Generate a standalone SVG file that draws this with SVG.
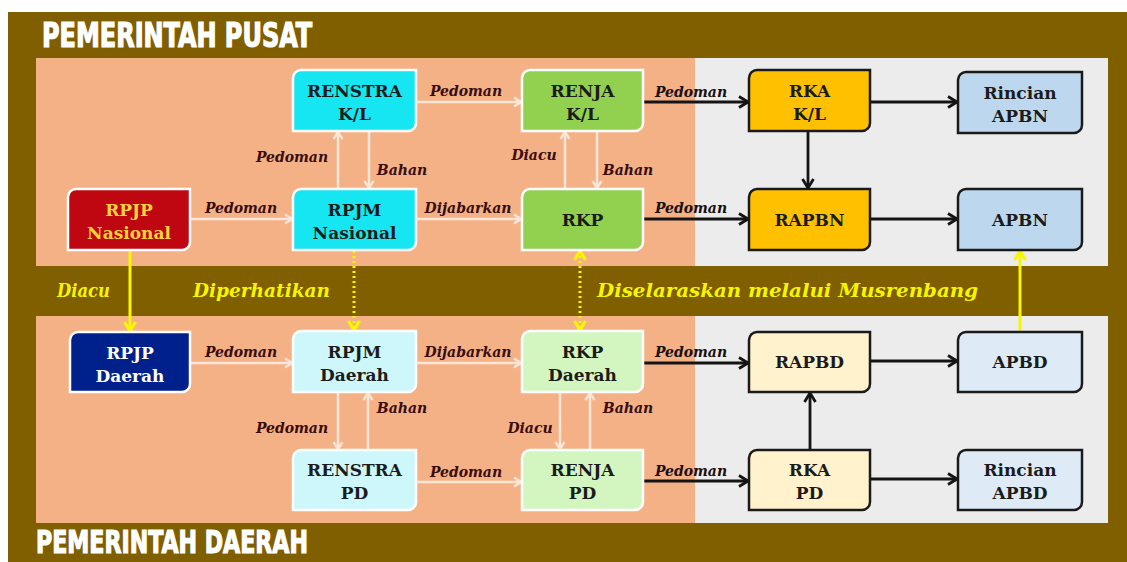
<svg xmlns="http://www.w3.org/2000/svg" width="1127" height="562" viewBox="0 0 1127 562">
<defs>
<style>
.n{stroke-width:2.5}
.pw{stroke:#ffffff}
.pb{stroke:#1a1a1a}
.t{font-family:"DejaVu Serif","Liberation Serif",serif;font-weight:bold;font-size:17px;text-anchor:middle;fill:#1b1b1b}
.t.y{fill:#ffd43b}
.t.w{fill:#ffffff}
.lab{font-family:"DejaVu Serif","Liberation Serif",serif;font-weight:bold;font-style:italic;font-size:14px;text-anchor:middle;fill:#3a0d0d}
.lab.k{fill:#1a1010}
.ylab{font-family:"DejaVu Serif","Liberation Serif",serif;font-weight:bold;font-style:italic;font-size:19px;fill:#f5f500}
.title{font-family:"DejaVu Sans Condensed","DejaVu Sans",sans-serif;font-stretch:condensed;font-weight:bold;fill:#ffffff;stroke:#ffffff;stroke-width:1.2}
.cw{fill:none;stroke:#fde6d8;stroke-width:2.5}
.cb{fill:none;stroke:#141414;stroke-width:2.8}
.cy{fill:none;stroke:#f7f700;stroke-width:3}
.cyd{fill:none;stroke:#f7f700;stroke-width:3;stroke-dasharray:2 3}
</style>
<marker id="aw" viewBox="0 0 12 12" refX="10" refY="6" markerWidth="12" markerHeight="12" markerUnits="userSpaceOnUse" orient="auto-start-reverse"><path d="M3,1.5 L10,6 L3,10.5" fill="none" stroke="#fde6d8" stroke-width="2.4" stroke-linejoin="miter"/></marker>
<marker id="ab" viewBox="0 0 14 14" refX="12" refY="7" markerWidth="14" markerHeight="14" markerUnits="userSpaceOnUse" orient="auto-start-reverse"><path d="M3,1.5 L12,7 L3,12.5" fill="none" stroke="#141414" stroke-width="2.8"/></marker>
<marker id="ay" viewBox="0 0 14 14" refX="12" refY="7" markerWidth="14" markerHeight="14" markerUnits="userSpaceOnUse" orient="auto-start-reverse"><path d="M3,1.5 L12,7 L3,12.5" fill="none" stroke="#f7f700" stroke-width="3.2"/></marker>
</defs>

<!-- background -->
<rect x="0" y="0" width="1127" height="562" fill="#ffffff"/>
<rect x="8" y="12" width="1119" height="550" fill="#7f5f00"/>
<rect x="36" y="58" width="659" height="208" fill="#f4b186"/>
<rect x="695" y="58" width="413" height="208" fill="#ececec"/>
<rect x="36" y="316" width="659" height="207" fill="#f4b186"/>
<rect x="695" y="316" width="413" height="207" fill="#ececec"/>

<text class="title" x="42" y="47" font-size="33" textLength="270" lengthAdjust="spacingAndGlyphs">PEMERINTAH PUSAT</text>
<text class="title" x="36" y="553" font-size="32" textLength="272" lengthAdjust="spacingAndGlyphs">PEMERINTAH DAERAH</text>

<!-- connectors -->
<g id="connectors">
<path class="cw" d="M190,219 H292" marker-end="url(#aw)"/>
<path class="cw" d="M338,189 V132" marker-end="url(#aw)"/>
<path class="cw" d="M369,131 V188" marker-end="url(#aw)"/>
<path class="cw" d="M416,102 H521" marker-end="url(#aw)"/>
<path class="cw" d="M416,219 H521" marker-end="url(#aw)"/>
<path class="cw" d="M565,189 V132" marker-end="url(#aw)"/>
<path class="cw" d="M597,131 V188" marker-end="url(#aw)"/>
<path class="cb" d="M643,102 H748" marker-end="url(#ab)"/>
<path class="cb" d="M643,219 H748" marker-end="url(#ab)"/>
<path class="cb" d="M870,102 H957" marker-end="url(#ab)"/>
<path class="cb" d="M808,131 V188" marker-end="url(#ab)"/>
<path class="cb" d="M870,219 H957" marker-end="url(#ab)"/>

<path class="cy" d="M130,250 V331" marker-end="url(#ay)"/>
<path class="cyd" d="M354,251 V330" marker-end="url(#ay)"/>
<path class="cyd" d="M580,251 V330" marker-start="url(#ay)" marker-end="url(#ay)"/>
<path class="cy" d="M1020,332 V251" marker-end="url(#ay)"/>

<path class="cw" d="M190,363 H292" marker-end="url(#aw)"/>
<path class="cw" d="M338,392 V449" marker-end="url(#aw)"/>
<path class="cw" d="M368,450 V393" marker-end="url(#aw)"/>
<path class="cw" d="M416,363 H521" marker-end="url(#aw)"/>
<path class="cw" d="M560,392 V449" marker-end="url(#aw)"/>
<path class="cw" d="M590,450 V393" marker-end="url(#aw)"/>
<path class="cw" d="M416,482 H521" marker-end="url(#aw)"/>
<path class="cb" d="M643,363 H748" marker-end="url(#ab)"/>
<path class="cb" d="M643,481 H748" marker-end="url(#ab)"/>
<path class="cb" d="M870,361 H957" marker-end="url(#ab)"/>
<path class="cb" d="M810,450 V393" marker-end="url(#ab)"/>
<path class="cb" d="M870,479 H957" marker-end="url(#ab)"/>

<text class="lab" x="241" y="213">Pedoman</text>
<text class="lab" x="292" y="162">Pedoman</text>
<text class="lab" x="402" y="175">Bahan</text>
<text class="lab" x="466" y="96">Pedoman</text>
<text class="lab" x="468" y="213">Dijabarkan</text>
<text class="lab" x="534" y="160">Diacu</text>
<text class="lab" x="628" y="175">Bahan</text>
<text class="lab k" x="691" y="97">Pedoman</text>
<text class="lab k" x="691" y="213">Pedoman</text>

<text class="lab" x="241" y="357">Pedoman</text>
<text class="lab" x="292" y="433">Pedoman</text>
<text class="lab" x="402" y="413">Bahan</text>
<text class="lab" x="468" y="357">Dijabarkan</text>
<text class="lab" x="530" y="433">Diacu</text>
<text class="lab" x="628" y="413">Bahan</text>
<text class="lab" x="466" y="477">Pedoman</text>
<text class="lab k" x="691" y="357">Pedoman</text>
<text class="lab k" x="691" y="476">Pedoman</text>

<text class="ylab" x="57" y="297" textLength="53" lengthAdjust="spacingAndGlyphs">Diacu</text>
<text class="ylab" x="193" y="297" textLength="137" lengthAdjust="spacingAndGlyphs">Diperhatikan</text>
<text class="ylab" x="597" y="297" textLength="381" lengthAdjust="spacingAndGlyphs">Diselaraskan melalui Musrenbang</text>
</g>

<!-- nodes: top -->
<g id="rpjp-nasional"><path class="n pw" fill="#be0710" d="M76,189 H190 V242 A8,8 0 0 1 182,250 H68 V197 A8,8 0 0 1 76,189 Z"/><text class="t y" x="129" y="216">RPJP</text><text class="t y" x="129" y="239">Nasional</text></g>
<g id="renstra-kl"><path class="n pw" fill="#16e6f2" d="M301,70 H416 V123 A8,8 0 0 1 408,131 H293 V78 A8,8 0 0 1 301,70 Z"/><text class="t" x="354.5" y="97">RENSTRA</text><text class="t" x="354.5" y="120">K/L</text></g>
<g id="rpjm-nasional"><path class="n pw" fill="#16e6f2" d="M301,189 H416 V242 A8,8 0 0 1 408,250 H293 V197 A8,8 0 0 1 301,189 Z"/><text class="t" x="354.5" y="216">RPJM</text><text class="t" x="354.5" y="239">Nasional</text></g>
<g id="renja-kl"><path class="n pw" fill="#92d050" d="M530,70 H643 V123 A8,8 0 0 1 635,131 H522 V78 A8,8 0 0 1 530,70 Z"/><text class="t" x="582.5" y="97">RENJA</text><text class="t" x="582.5" y="120">K/L</text></g>
<g id="rkp"><path class="n pw" fill="#92d050" d="M530,189 H643 V242 A8,8 0 0 1 635,250 H522 V197 A8,8 0 0 1 530,189 Z"/><text class="t" x="582.5" y="226">RKP</text></g>
<g id="rka-kl"><path class="n pb" fill="#ffc000" d="M757,70 H870 V123 A8,8 0 0 1 862,131 H749 V78 A8,8 0 0 1 757,70 Z"/><text class="t" x="809.5" y="97">RKA</text><text class="t" x="809.5" y="120">K/L</text></g>
<g id="rapbn"><path class="n pb" fill="#ffc000" d="M757,189 H870 V242 A8,8 0 0 1 862,250 H749 V197 A8,8 0 0 1 757,189 Z"/><text class="t" x="809.5" y="226">RAPBN</text></g>
<g id="rincian-apbn"><path class="n pb" fill="#bdd7ee" d="M966,72 H1082 V125 A8,8 0 0 1 1074,133 H958 V80 A8,8 0 0 1 966,72 Z"/><text class="t" x="1020" y="99">Rincian</text><text class="t" x="1020" y="122">APBN</text></g>
<g id="apbn"><path class="n pb" fill="#bdd7ee" d="M966,189 H1082 V242 A8,8 0 0 1 1074,250 H958 V197 A8,8 0 0 1 966,189 Z"/><text class="t" x="1020" y="226">APBN</text></g>

<!-- nodes: bottom -->
<g id="rpjp-daerah"><path class="n pw" fill="#00208c" d="M78,332 H190 V384 A8,8 0 0 1 182,392 H70 V340 A8,8 0 0 1 78,332 Z"/><text class="t w" x="130" y="359">RPJP</text><text class="t w" x="130" y="382">Daerah</text></g>
<g id="rpjm-daerah"><path class="n pw" fill="#cdf7fb" d="M301,331 H416 V384 A8,8 0 0 1 408,392 H293 V339 A8,8 0 0 1 301,331 Z"/><text class="t" x="354.5" y="358">RPJM</text><text class="t" x="354.5" y="381">Daerah</text></g>
<g id="rkp-daerah"><path class="n pw" fill="#d3f6c0" d="M530,331 H643 V384 A8,8 0 0 1 635,392 H522 V339 A8,8 0 0 1 530,331 Z"/><text class="t" x="582.5" y="358">RKP</text><text class="t" x="582.5" y="381">Daerah</text></g>
<g id="rapbd"><path class="n pb" fill="#fff2cc" d="M757,332 H870 V384 A8,8 0 0 1 862,392 H749 V340 A8,8 0 0 1 757,332 Z"/><text class="t" x="809.5" y="368">RAPBD</text></g>
<g id="apbd"><path class="n pb" fill="#deebf7" d="M966,332 H1082 V384 A8,8 0 0 1 1074,392 H958 V340 A8,8 0 0 1 966,332 Z"/><text class="t" x="1020" y="368">APBD</text></g>
<g id="renstra-pd"><path class="n pw" fill="#cdf7fb" d="M301,450 H416 V502 A8,8 0 0 1 408,510 H293 V458 A8,8 0 0 1 301,450 Z"/><text class="t" x="354.5" y="476">RENSTRA</text><text class="t" x="354.5" y="499">PD</text></g>
<g id="renja-pd"><path class="n pw" fill="#d3f6c0" d="M530,450 H643 V502 A8,8 0 0 1 635,510 H522 V458 A8,8 0 0 1 530,450 Z"/><text class="t" x="582.5" y="476">RENJA</text><text class="t" x="582.5" y="499">PD</text></g>
<g id="rka-pd"><path class="n pb" fill="#fff2cc" d="M757,450 H870 V502 A8,8 0 0 1 862,510 H749 V458 A8,8 0 0 1 757,450 Z"/><text class="t" x="809.5" y="476">RKA</text><text class="t" x="809.5" y="499">PD</text></g>
<g id="rincian-apbd"><path class="n pb" fill="#deebf7" d="M966,450 H1082 V502 A8,8 0 0 1 1074,510 H958 V458 A8,8 0 0 1 966,450 Z"/><text class="t" x="1020" y="476">Rincian</text><text class="t" x="1020" y="499">APBD</text></g>
</svg>
